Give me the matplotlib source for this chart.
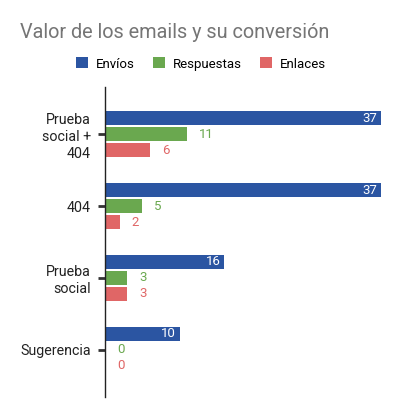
import matplotlib

matplotlib.use("Agg")
import matplotlib.pyplot as plt
import numpy as np

categories = ["Prueba\nsocial +\n404", "404", "Prueba\nsocial", "Sugerencia"]
series_names = ["Envíos", "Respuestas", "Enlaces"]
envios = [37, 37, 16, 10]
respuestas = [11, 5, 3, 0]
enlaces = [6, 2, 3, 0]

COLORS = ["#2b55a2", "#6aa84f", "#e06666"]

plt.rcParams["font.family"] = ["Roboto", "DejaVu Sans"]

fig = plt.figure(figsize=(4.01, 4.18), dpi=100)
ax = fig.add_axes([105 / 401, 1 - 397 / 418, 296 / 401, 310 / 418])

y = np.arange(len(categories))
bar_h = 0.195
step = 0.223
values = [envios, respuestas, enlaces]
for i, (name, vals, color) in enumerate(zip(series_names, values, COLORS)):
    pos = y + (i - 1) * step
    ax.barh(pos, vals, height=bar_h, color=color, label=name)
    for p, v in zip(pos, vals):
        if i == 0:
            ax.annotate(str(v), (v, p), xytext=(-4, 0), textcoords="offset pixels",
                        ha="right", va="center", color="white", fontsize=9.5)
        else:
            ax.annotate(str(v), (v, p), xytext=(12, 0), textcoords="offset pixels",
                        ha="left", va="center", color=color, fontsize=9.5)

ax.set_xlim(0, 296 / 276 * 37)
ax.set_ylim(3.66, -0.66)
ax.set_yticks(y)
ax.set_yticklabels(categories, fontsize=10.3, linespacing=1.25, color="#222222")
ax.tick_params(axis="y", length=5, width=2, color="#333333", pad=5)
ax.set_xticks([])
for side in ["top", "right", "bottom"]:
    ax.spines[side].set_visible(False)
ax.spines["left"].set_color("#222222")
ax.spines["left"].set_linewidth(1)

fig.text(20 / 401, 1 - 33 / 418, "Valor de los emails y su conversión",
         fontsize=14.3, color="#757575", va="center", ha="left")
fig.legend(loc="center", bbox_to_anchor=(201 / 401, 1 - 64 / 418), ncol=3,
           frameon=False, fontsize=9.5, handlelength=0.9, handleheight=0.9,
           columnspacing=1.4, handletextpad=0.6)

fig.savefig("out.png", dpi=100)
